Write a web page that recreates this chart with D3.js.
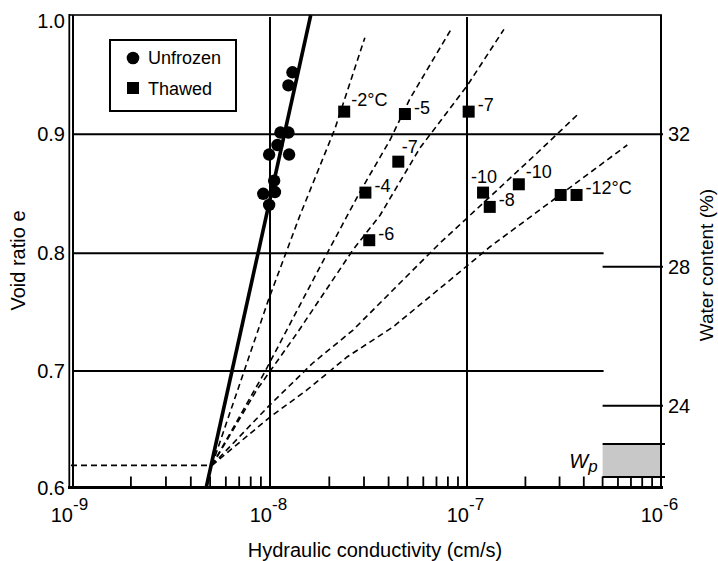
<!DOCTYPE html>
<html>
<head>
<meta charset="utf-8">
<script src="https://cdnjs.cloudflare.com/ajax/libs/d3/7.8.5/d3.min.js"></script>
<style>
body { margin: 0; background: #fff; }
text { font-family: "Liberation Sans", Arial, sans-serif; fill: #000; }
</style>
</head>
<body>
<div id="chart"></div>
<script>
// axes
var decades = [1e-9, 1e-8, 1e-7, 1e-6];
var voidTicks = [0.6, 0.7, 0.8, 0.9, 1.0];
var waterTicks = [24, 28, 32];
var wpRange = [21.95, 22.9];
var legendNames = ["Unfrozen", "Thawed"];

// unfrozen specimens
var kUnfrozen = [1.30e-8, 1.24e-8, 1.13e-8, 1.24e-8, 1.09e-8, 0.99e-8, 1.25e-8, 1.05e-8, 0.925e-8, 1.06e-8, 0.99e-8];
var eUnfrozen = [0.952, 0.941, 0.9015, 0.9015, 0.891, 0.883, 0.883, 0.861, 0.850, 0.8515, 0.8406];

// thawed specimens, freezing temperature of each
var kThawed = [2.38e-8, 4.84e-8, 1.02e-7, 4.48e-8, 3.05e-8, 3.19e-8, 1.21e-7, 1.31e-7, 1.85e-7, 3.04e-7, 3.67e-7];
var eThawed = [0.919, 0.917, 0.919, 0.877, 0.851, 0.811, 0.851, 0.839, 0.858, 0.849, 0.849];
var thawLabels = ["-2°C", "-5", "-7", "-7", "-4", "-6", "-10", "-8", "-10", "", "-12°C"];
var labelPlace = ["ur", "r", "r", "ua", "r", "r", "u", "r", "ur", "", "r"];

// unfrozen trend (solid) and the line to the plastic limit
var kFit = [4.78e-9, 1.61e-8];
var eFit = [0.6, 1.0];
var kBase = [1e-9, 5.11e-9];
var eBase = [0.619, 0.619];

// thawed trends (dashed)
var kTrendA = [5.11e-9, 9.8e-9, 1.42e-8, 2.14e-8, 3.03e-8];
var eTrendA = [0.619, 0.760, 0.832, 0.905, 0.981];
var kTrendB = [5.11e-9, 9.4e-9, 1.31e-8, 1.95e-8, 2.86e-8, 4.06e-8, 5.14e-8, 8.3e-8];
var eTrendB = [0.619, 0.699, 0.745, 0.800, 0.8515, 0.895, 0.930, 0.988];
var kTrendC = [5.11e-9, 8.6e-9, 1.37e-8, 2.64e-8, 3.62e-8, 5.77e-8, 1.0e-7, 1.55e-7];
var eTrendC = [0.619, 0.684, 0.732, 0.803, 0.832, 0.8885, 0.9405, 0.988];
var kTrendD = [5.11e-9, 1.0e-8, 1.65e-8, 2.64e-8, 4.21e-8, 7.3e-8, 1.31e-7, 2.30e-7, 3.69e-7];
var eTrendD = [0.619, 0.671, 0.7068, 0.7348, 0.7688, 0.8087, 0.8473, 0.8843, 0.916];
var kTrendE = [5.11e-9, 1.0e-8, 1.54e-8, 2.46e-8, 4.21e-8, 8.2e-8, 1.31e-7, 2.78e-7, 6.7e-7];
var eTrendE = [0.619, 0.6605, 0.6837, 0.7119, 0.7374, 0.7773, 0.8053, 0.8448, 0.891];

var svgWidth = 718;
var svgHeight = 561;

var svg = d3.select("#chart")
    .append("svg")
    .attr("width", svgWidth)
    .attr("height", svgHeight);

// scales (the printed axis is slightly uneven, so use piecewise ranges)
var xScale = d3.scaleLog()
    .domain(decades)
    .range([71, 270, 467, 661]);

var yScale = d3.scaleLinear()
    .domain(voidTicks)
    .range([487.5, 371, 253.3, 134.3, 15]);

var wScale = d3.scaleLinear()
    .domain(waterTicks)
    .range([405.7, 266.7, 134.3]);

var plotLeft = xScale(1e-9), plotRight = xScale(1e-6);
var plotTop = yScale(1.0), plotBottom = yScale(0.6);
var colX = xScale(5e-7);

// Wp band
svg.append("rect")
    .attr("x", colX)
    .attr("y", wScale(wpRange[1]))
    .attr("width", plotRight - colX)
    .attr("height", wScale(wpRange[0]) - wScale(wpRange[1]))
    .attr("fill", "#c8c8c8");

// horizontal grid
svg.append("g").selectAll("line")
    .data(voidTicks.filter(v => v > 0.6 && v < 1.0))
    .enter()
    .append("line")
    .attr("x1", plotLeft + 2)
    .attr("x2", d => d == 0.9 ? plotRight + 2 : colX + 1)
    .attr("y1", d => yScale(d))
    .attr("y2", d => yScale(d))
    .attr("stroke", "#000")
    .attr("stroke-width", 2);

// vertical grid
svg.append("g").selectAll("line")
    .data(decades.slice(1, 3))
    .enter()
    .append("line")
    .attr("x1", d => xScale(d))
    .attr("x2", d => xScale(d))
    .attr("y1", plotTop + 2)
    .attr("y2", plotBottom)
    .attr("stroke", "#000")
    .attr("stroke-width", 2);

// right axis marks
svg.append("g").selectAll("line")
    .data(waterTicks.filter(w => w < 32))
    .enter()
    .append("line")
    .attr("x1", colX)
    .attr("x2", plotRight + 2)
    .attr("y1", d => wScale(d))
    .attr("y2", d => wScale(d))
    .attr("stroke", "#000")
    .attr("stroke-width", 2);

svg.append("g").selectAll("line")
    .data(wpRange)
    .enter()
    .append("line")
    .attr("x1", colX)
    .attr("x2", plotRight + 4)
    .attr("y1", d => wScale(d))
    .attr("y2", d => wScale(d))
    .attr("stroke", "#000")
    .attr("stroke-width", 2);

// frame
svg.append("line").attr("x1", plotLeft - 2).attr("x2", plotRight + 1).attr("y1", plotTop).attr("y2", plotTop)
    .attr("stroke", "#333").attr("stroke-width", 2);
svg.append("line").attr("x1", plotRight).attr("x2", plotRight).attr("y1", plotTop).attr("y2", plotBottom)
    .attr("stroke", "#000").attr("stroke-width", 2);
svg.append("line").attr("x1", plotLeft - 1.7).attr("x2", plotLeft - 1.7).attr("y1", plotTop - 1).attr("y2", plotBottom)
    .attr("stroke", "#000").attr("stroke-width", 1.8);
svg.append("line").attr("x1", plotLeft + 2).attr("x2", plotLeft + 2).attr("y1", plotTop).attr("y2", plotBottom)
    .attr("stroke", "#000").attr("stroke-width", 2);
svg.append("line").attr("x1", plotLeft - 3).attr("x2", plotRight + 2).attr("y1", plotBottom).attr("y2", plotBottom)
    .attr("stroke", "#000").attr("stroke-width", 3);

// minor ticks
var minor = [];
decades.slice(0, 3).forEach(function(d) {
    for (var m = 2; m <= 9; m++) minor.push(m * d);
});
svg.append("g").selectAll("line")
    .data(minor)
    .enter()
    .append("line")
    .attr("x1", d => xScale(d))
    .attr("x2", d => xScale(d))
    .attr("y1", plotBottom)
    .attr("y2", plotBottom - 11)
    .attr("stroke", "#000")
    .attr("stroke-width", 1.8);

// x tick labels 10^n
var xLab = svg.append("g").selectAll("g")
    .data(decades)
    .enter()
    .append("g");
xLab.append("text")
    .attr("x", d => xScale(d) + 2)
    .attr("y", 521.5)
    .attr("text-anchor", "end")
    .style("font-size", "20px")
    .text("10");
xLab.append("text")
    .attr("x", d => xScale(d) + 2)
    .attr("y", 510)
    .style("font-size", "17px")
    .text(d => Math.round(Math.log10(d)));

// y tick labels
svg.append("g").selectAll("text")
    .data(voidTicks)
    .enter()
    .append("text")
    .attr("x", plotLeft - 6)
    .attr("y", d => Math.max(yScale(d), plotTop + 6) + 7)
    .attr("text-anchor", "end")
    .style("font-size", "20px")
    .text(d => d.toFixed(1));

// right tick labels
svg.append("g").selectAll("text")
    .data(waterTicks)
    .enter()
    .append("text")
    .attr("x", plotRight + 7)
    .attr("y", d => wScale(d) + 7)
    .style("font-size", "20px")
    .text(d => d);

// Wp label
var wp = svg.append("text")
    .attr("x", colX - 5)
    .attr("y", 468)
    .attr("text-anchor", "end")
    .style("font-size", "20px")
    .style("font-style", "italic");
wp.append("tspan").text("W");
wp.append("tspan").attr("dy", 4).style("font-size", "17px").text("p");

// axis titles
svg.append("text")
    .attr("x", 375)
    .attr("y", 556.5)
    .attr("text-anchor", "middle")
    .style("font-size", "20px")
    .text("Hydraulic conductivity (cm/s)");

svg.append("text")
    .attr("transform", "translate(25,260.5) rotate(-90)")
    .attr("text-anchor", "middle")
    .style("font-size", "20px")
    .text("Void ratio e");

svg.append("text")
    .attr("transform", "translate(713,265) rotate(-90)")
    .attr("text-anchor", "middle")
    .style("font-size", "19px")
    .text("Water content (%)");

// lines
var line = d3.line()
    .x(d => xScale(d[0]))
    .y(d => yScale(d[1]));

var trends = [
    d3.zip(kTrendA, eTrendA),
    d3.zip(kTrendB, eTrendB),
    d3.zip(kTrendC, eTrendC),
    d3.zip(kTrendD, eTrendD),
    d3.zip(kTrendE, eTrendE),
    d3.zip(kBase, eBase)
];

svg.append("g").selectAll("path")
    .data(trends)
    .enter()
    .append("path")
    .attr("d", line)
    .attr("fill", "none")
    .attr("stroke", "#000")
    .attr("stroke-width", 1.6)
    .attr("stroke-dasharray", "6,4");

svg.append("path")
    .attr("d", line(d3.zip(kFit, eFit)))
    .attr("fill", "none")
    .attr("stroke", "#000")
    .attr("stroke-width", 3.6);

// unfrozen points
svg.append("g").selectAll("circle")
    .data(d3.zip(kUnfrozen, eUnfrozen))
    .enter()
    .append("circle")
    .attr("cx", d => xScale(d[0]))
    .attr("cy", d => yScale(d[1]))
    .attr("r", 6.2)
    .attr("fill", "#000");

// thawed points
var thawed = d3.zip(kThawed, eThawed, thawLabels, labelPlace);
svg.append("g").selectAll("rect")
    .data(thawed)
    .enter()
    .append("rect")
    .attr("x", d => xScale(d[0]) - 6)
    .attr("y", d => yScale(d[1]) - 6)
    .attr("width", 12)
    .attr("height", 12)
    .attr("fill", "#000");

var offX = { r: 9, ur: 7, ua: 3.5, u: 1 };
var offY = { r: -0.5, ur: -6, ua: -8.5, u: -10 };
svg.append("g").selectAll("text")
    .data(thawed.filter(d => d[2] != ""))
    .enter()
    .append("text")
    .attr("x", d => xScale(d[0]) + offX[d[3]])
    .attr("y", d => yScale(d[1]) + offY[d[3]])
    .attr("text-anchor", d => d[3] == "u" ? "middle" : "start")
    .style("font-size", "18px")
    .text(d => d[2]);

// legend
var legend = svg.append("g").attr("transform", "translate(110,40)");
legend.append("rect")
    .attr("width", 126)
    .attr("height", 71)
    .attr("fill", "#fff")
    .attr("stroke", "#000")
    .attr("stroke-width", 2);
legend.append("circle").attr("cx", 23).attr("cy", 18).attr("r", 6.3).attr("fill", "#000");
legend.append("rect").attr("x", 17).attr("y", 42).attr("width", 12).attr("height", 12).attr("fill", "#000");
legend.selectAll("text.lg")
    .data(legendNames)
    .enter()
    .append("text")
    .attr("class", "lg")
    .attr("x", 38)
    .attr("y", (d, i) => 24 + i * 31)
    .style("font-size", "18px")
    .text(d => d);
</script>
</body>
</html>
